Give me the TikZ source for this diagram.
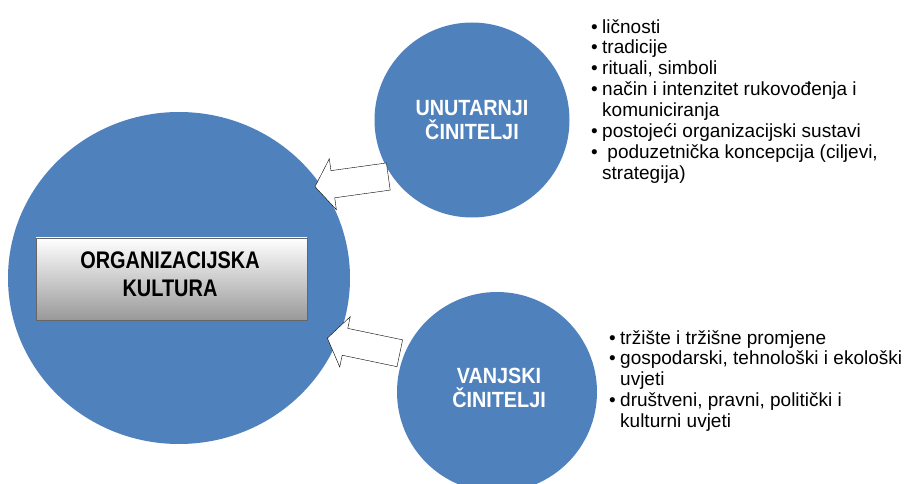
\documentclass[tikz,border=0pt]{standalone}
\usepackage{fontspec}
\setmainfont{Liberation Sans}
\newfontfamily\titlefont{Liberation Sans}[FakeStretch=0.83]
\newfontfamily\labelfont{Liberation Sans}[FakeStretch=0.9]
\usetikzlibrary{shapes.geometric,shapes.arrows}

\definecolor{factorblue}{RGB}{79,129,189}
\newcommand{\itm}{\makebox[11pt][l]{\textbullet}}
\newcommand{\cnt}{\hspace*{11pt}}

\begin{document}
\begin{tikzpicture}[x=1pt,y=-1pt,
  bigcircle/.style={ellipse,fill=factorblue,minimum width=342pt,minimum height=332pt},
  factorcircle/.style={circle,fill=factorblue,inner sep=0pt},
  factorlabel/.style={text=white,align=center,font=\labelfont\bfseries\fontsize{22}{24}\selectfont},
  titlebox/.style={rectangle,draw=black!60,top color=white,bottom color=black!40,minimum width=271pt,minimum height=82pt},
  titletext/.style={align=center,font=\titlefont\bfseries\fontsize{24}{28}\selectfont},
  blockarrow/.style={single arrow,draw,fill=white,thin,minimum height=74pt,
    single arrow head extend=12pt,single arrow tip angle=110,inner xsep=0pt,inner ysep=13.5pt,anchor=tail},
  factorlist/.style={anchor=north west,inner sep=0pt,align=left,font=\fontsize{19}{20.9}\selectfont}]
\useasboundingbox (0,0) rectangle (922,484);

% organizacijska kultura
\node[bigcircle] (org) at (179,278) {};
\node[titlebox] (box) at (171.5,279) {};
\node[titletext] (title) at (170,274) {ORGANIZACIJSKA\\KULTURA};

% unutarnji i vanjski cinitelji
\node[factorcircle,minimum size=195pt] (inner) at (472,120) {};
\node[factorlabel] (innerlabel) at (inner.center) {UNUTARNJI\\ČINITELJI};
\node[factorcircle,minimum size=200pt] (outer) at (497,392) {};
\node[factorlabel] (outerlabel) at (499,388) {VANJSKI\\ČINITELJI};

\node[blockarrow,rotate=187.9] (innerarrow) at (388.5,176.5) {};
\node[blockarrow,rotate=168.2] (outerarrow) at (400,353.3) {};

% popisi
\node[factorlist] (innerlist) at (591,19) {%
\itm ličnosti\\
\itm tradicije\\
\itm rituali, simboli\\
\itm način i intenzitet rukovođenja i\\
\cnt komuniciranja\\
\itm postojeći organizacijski sustavi\\
\itm\ poduzetnička koncepcija (ciljevi,\\
\cnt strategija)};
\node[factorlist] (outerlist) at (609,330) {%
\itm tržište i tržišne promjene\\
\itm gospodarski, tehnološki i ekološki\\
\cnt uvjeti\\
\itm društveni, pravni, politički i\\
\cnt kulturni uvjeti};
\end{tikzpicture}
\end{document}
